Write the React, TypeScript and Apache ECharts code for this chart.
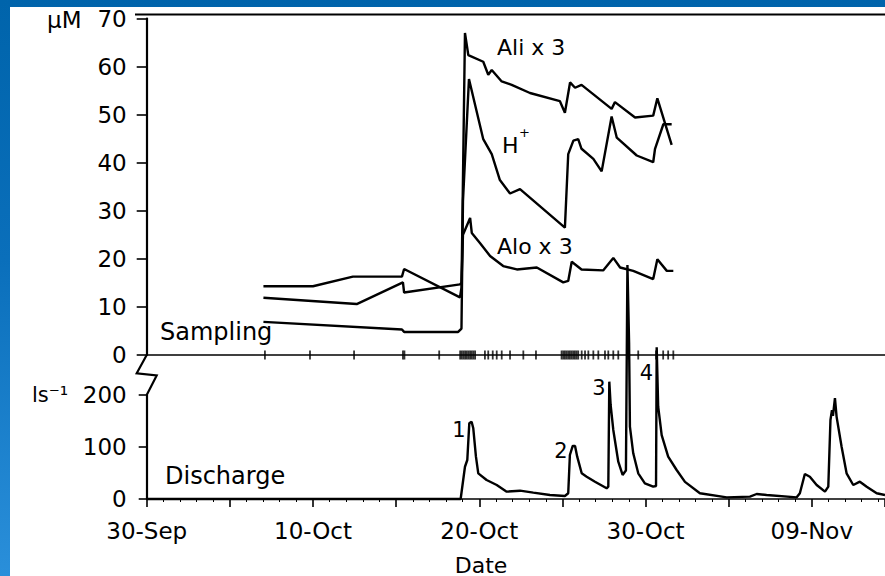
import React, { useEffect, useRef } from "react";
import * as echarts from "echarts";

// Day 0 = 30 Sep
const xTickDays = [0, 10, 20, 30, 40];
const xTickLabels = ["30-Sep", "10-Oct", "20-Oct", "30-Oct", "09-Nov"];

const aliDays = [7.02, 10.0, 12.4, 15.35, 15.48, 18.84, 18.93, 19.14, 19.34, 20.24, 20.54, 20.75, 21.35, 21.95, 23.05, 24.85, 25.15, 25.46, 25.76, 26.15, 27.96, 28.16, 29.37, 30.46, 30.71, 31.57];
const aliValues = [14.3, 14.3, 16.3, 16.3, 17.9, 12.0, 14, 67, 62.4, 61.0, 58.3, 59.3, 56.9, 56.2, 54.5, 52.8, 50.4, 56.7, 55.6, 56.2, 51.2, 52.6, 49.4, 49.8, 53.4, 43.7];

const hDays = [7.02, 15.35, 15.48, 18.73, 18.93, 19.02, 19.38, 20.24, 20.75, 21.24, 21.85, 22.45, 25.15, 25.35, 25.66, 25.95, 26.15, 26.86, 27.36, 27.96, 28.27, 29.47, 30.46, 30.57, 31.07, 31.57];
const hValues = [6.9, 5.3, 4.8, 4.8, 5.5, 32, 57.4, 44.9, 41.8, 36.4, 33.6, 34.5, 26.5, 41.8, 44.6, 44.9, 42.9, 40.8, 38.2, 49.6, 45.2, 41.5, 40.1, 42.9, 48.0, 48.0];

const aloDays = [7.02, 12.63, 15.41, 15.48, 18.84, 18.93, 19.02, 19.45, 19.55, 20.04, 20.65, 21.44, 22.26, 23.46, 25.05, 25.35, 25.56, 26.15, 27.45, 28.06, 28.47, 29.26, 30.46, 30.71, 31.28, 31.67];
const aloValues = [11.9, 10.6, 15.1, 13.0, 14.7, 15, 25, 28.5, 25.4, 23.3, 20.6, 18.5, 17.8, 18.2, 15.1, 15.4, 19.4, 17.8, 17.6, 20.2, 18.2, 17.5, 15.8, 19.9, 17.5, 17.5];

const dischargeDays = [0, 18.88, 19.14, 19.28, 19.4, 19.54, 19.64, 19.8, 19.94, 20.44, 21.05, 21.65, 22.45, 23.25, 24.25, 25.15, 25.35, 25.45, 25.62, 25.76, 25.89, 26.16, 26.46, 26.96, 27.66, 27.76, 27.82, 27.9, 28.06, 28.36, 28.62, 28.76, 28.82, 28.91, 29.01, 29.06, 29.26, 29.56, 29.96, 30.46, 30.63, 30.67, 30.76, 30.97, 31.36, 31.87, 32.37, 33.27, 34.88, 36.28, 36.68, 37.28, 39.09, 39.28, 39.58, 39.88, 40.29, 40.79, 40.99, 41.12, 41.21, 41.27, 41.39, 41.49, 41.79, 42.09, 42.49, 42.89, 43.3, 43.9, 44.4];
const dischargeValues = [0, 0, 62, 75, 145.5, 148.7, 136, 81.4, 49.4, 36.5, 26.9, 14.1, 16, 12.2, 7.7, 5.8, 11, 84.6, 102, 102, 81.4, 49.4, 42.9, 33.3, 20.6, 23.7, 225.6, 180.8, 132.7, 71.7, 46.2, 52.5, 55, 450, 300, 139, 87.9, 49.4, 30.2, 23.7, 25, 292, 177.5, 123, 81.4, 55.8, 33, 11, 3.2, 4.5, 9.6, 7.7, 3.2, 11, 48, 42.9, 26.9, 14.1, 23.7, 152, 171, 160, 194, 158, 100.6, 49.4, 26.9, 33.3, 23.7, 11, 7.7];

const samplingDays = [7.11, 9.82, 12.47, 15.41, 15.5, 17.59, 18.85, 18.95, 19.05, 19.15, 19.25, 19.35, 19.45, 19.55, 19.65, 19.75, 20.34, 20.54, 20.81, 21.05, 21.35, 21.85, 22.65, 23.41, 24.95, 25.05, 25.15, 25.25, 25.35, 25.45, 25.55, 25.65, 25.75, 25.85, 25.95, 26.16, 26.36, 26.56, 26.86, 27.16, 27.56, 27.76, 28.06, 28.36, 28.96, 29.56, 30.63, 30.69, 31.06, 31.36, 31.67];

const zip = (d: number[], v: number[]) => d.map((x, i) => [x, v[i]]);

const FONT = "DejaVu Sans";
const BLACK = "#000000";
// chart div offset inside page
const OX = 10;
const OY = 7;

export default function App() {
  const ref = useRef<HTMLDivElement>(null);

  useEffect(() => {
    if (!ref.current) return;
    const chart = echarts.init(ref.current, undefined, { renderer: "svg" });

    const lineSeries = (name: string, data: number[][]) => ({
      name,
      type: "line",
      xAxisIndex: 0,
      yAxisIndex: 0,
      data,
      symbol: "none",
      clip: false,
      lineStyle: { color: BLACK, width: 2.4 },
      z: 5,
    });

    const txt = (text: string, x: number, y: number, size: number, align = "left") => ({
      type: "text",
      x: x - OX,
      y: y - OY,
      z: 20,
      style: {
        text,
        fontSize: size,
        fontFamily: FONT,
        fill: BLACK,
        align,
        verticalAlign: "middle",
      },
    });

    const option: any = {
      animation: false,
      backgroundColor: "#ffffff",
      grid: [
        { left: 146.7 - OX, right: 0, top: 15 - OY, height: 340 },
        { left: 146.7 - OX, right: 0, top: 395 - OY, height: 104 },
      ],
      xAxis: [
        {
          gridIndex: 0,
          type: "value",
          min: 0,
          max: 44.4,
          interval: 5,
          axisLine: { show: true, onZero: true, lineStyle: { color: BLACK, width: 1.6 } },
          axisTick: { show: false },
          axisLabel: { show: false },
          splitLine: { show: false },
        },
        {
          gridIndex: 1,
          type: "value",
          min: 0,
          max: 44.4,
          interval: 5,
          axisLine: { show: true, onZero: true, lineStyle: { color: BLACK, width: 1.6 } },
          axisTick: { show: true, length: 8, lineStyle: { color: BLACK, width: 1.6 } },
          minorTick: { show: true, splitNumber: 5, length: 3, lineStyle: { color: BLACK, width: 1 } },
          axisLabel: {
            show: true,
            showMaxLabel: false,
            color: BLACK,
            fontFamily: FONT,
            fontSize: 23,
            margin: 20,
            formatter: (v: number) => {
              const i = xTickDays.indexOf(Math.round(v));
              return i >= 0 && Math.abs(v - xTickDays[i]) < 1e-6 ? xTickLabels[i] : "";
            },
          },
          splitLine: { show: false },
        },
      ],
      yAxis: [
        {
          gridIndex: 0,
          type: "value",
          min: 0,
          max: 70,
          interval: 10,
          axisLine: { show: true, lineStyle: { color: BLACK, width: 2.2 } },
          axisTick: { show: true, length: 10, lineStyle: { color: BLACK, width: 1.6 } },
          axisLabel: { color: BLACK, fontFamily: FONT, fontSize: 23, margin: 20 },
          splitLine: { show: false },
        },
        {
          gridIndex: 1,
          type: "value",
          min: 0,
          max: 200,
          interval: 100,
          axisLine: { show: true, lineStyle: { color: BLACK, width: 2.2 } },
          axisTick: { show: true, length: 8, lineStyle: { color: BLACK, width: 1.6 } },
          axisLabel: { color: BLACK, fontFamily: FONT, fontSize: 23, margin: 20 },
          splitLine: { show: false },
        },
      ],
      series: [
        lineSeries("Ali x 3", zip(aliDays, aliValues)),
        lineSeries("H+", zip(hDays, hValues)),
        lineSeries("Alo x 3", zip(aloDays, aloValues)),
        {
          name: "Sampling",
          type: "scatter",
          xAxisIndex: 0,
          yAxisIndex: 0,
          data: samplingDays.map((d) => [d, 0]),
          symbol: "rect",
          symbolSize: [1.8, 9],
          itemStyle: { color: BLACK },
          clip: false,
          z: 6,
        },
        {
          name: "Discharge",
          type: "line",
          xAxisIndex: 1,
          yAxisIndex: 1,
          data: zip(dischargeDays, dischargeValues),
          symbol: "none",
          clip: false,
          lineStyle: { color: BLACK, width: 2.4 },
          z: 5,
        },
      ],
      graphic: [
        {
          type: "line",
          z: 10,
          shape: { x1: 135 - OX, y1: 14.5 - OY, x2: 885 - OX, y2: 14.5 - OY },
          style: { stroke: BLACK, lineWidth: 2.2 },
        },
        {
          type: "polyline",
          z: 10,
          shape: {
            points: [
              [146.7 - OX, 355 - OY],
              [136.7 - OX, 373.3 - OY],
              [156.7 - OX, 375.5 - OY],
              [146.7 - OX, 395 - OY],
            ],
          },
          style: { stroke: BLACK, lineWidth: 2.2, fill: null },
        },
        txt("μM", 47, 20, 23),
        txt("ls⁻¹", 32, 395, 21),
        txt("Sampling", 160, 332, 24),
        txt("Discharge", 165, 476, 24),
        txt("Ali x 3", 497, 47.5, 22),
        txt("H", 502, 145, 22),
        txt("+", 519, 132, 13),
        txt("Alo x 3", 497, 246.5, 22),
        txt("1", 459, 430, 21, "center"),
        txt("2", 561, 451, 21, "center"),
        txt("3", 599, 388, 21, "center"),
        txt("4", 646.5, 373, 21, "center"),
        txt("Date", 481, 565, 22, "center"),
      ],
    };

    chart.setOption(option);
    return () => chart.dispose();
  }, []);

  return (
    <div
      style={{
        position: "fixed",
        left: 0,
        top: 0,
        width: 885,
        height: 576,
        overflow: "hidden",
        background: "linear-gradient(180deg, #0064ab 0%, #0a6fbb 45%, #2a8fda 100%)",
      }}
    >
      <div
        ref={ref}
        style={{
          position: "absolute",
          left: OX,
          top: OY,
          width: 885 - OX,
          height: 576 - OY,
          background: "#ffffff",
        }}
      />
    </div>
  );
}
